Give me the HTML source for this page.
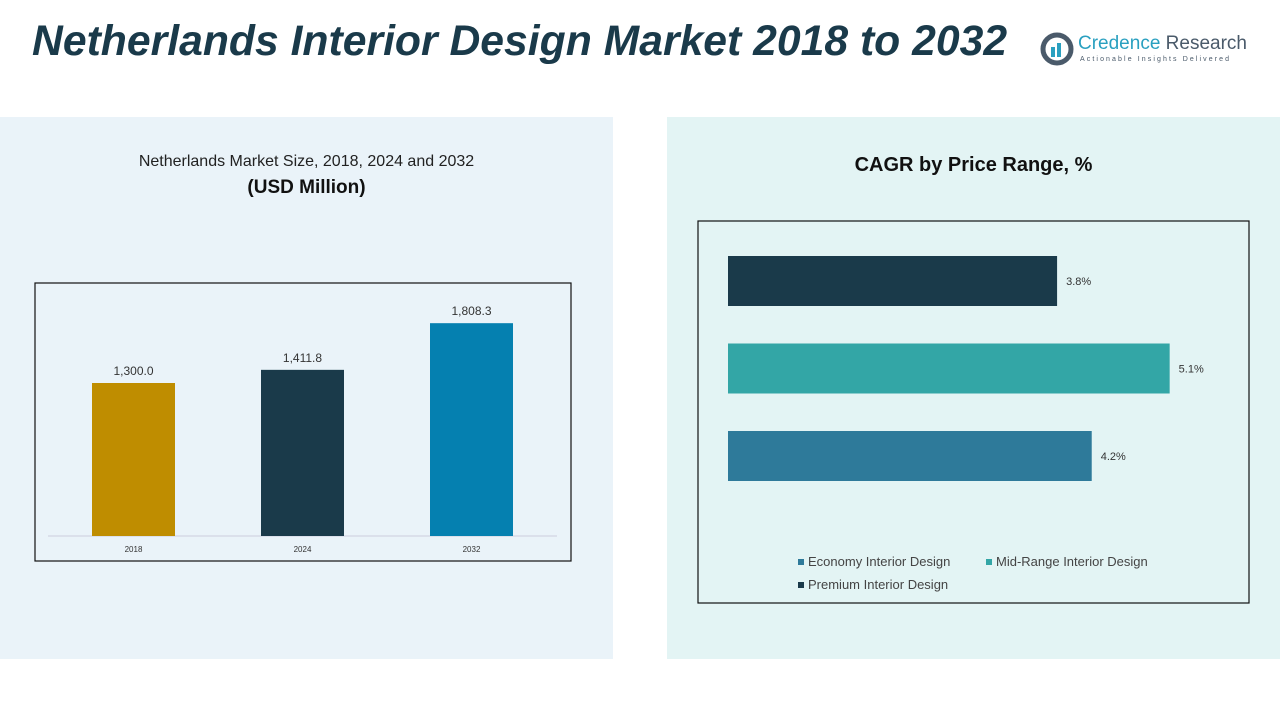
<!DOCTYPE html>
<html><head><meta charset="utf-8"><style>
body{margin:0;width:1280px;height:720px;background:#fff;font-family:"Liberation Sans",sans-serif;position:relative;overflow:hidden}
.abs{position:absolute}
</style></head><body>
<div class="abs" style="left:32px;top:17px;font-size:42.7px;font-weight:bold;font-style:italic;color:#1a3a4a;white-space:nowrap">Netherlands Interior Design Market 2018 to 2032</div>
<div class="abs" style="left:1040px;top:30px;width:235px;height:40px">
<svg width="34" height="34" style="position:absolute;left:0;top:2px"><circle cx="17" cy="17" r="14" fill="none" stroke="#4a5a6a" stroke-width="5"/><rect x="11" y="15" width="4" height="10" fill="#2aa0c0"/><rect x="17" y="11" width="4" height="14" fill="#2aa0c0"/></svg>
<div class="abs" style="left:38px;top:3px;font-size:19px;color:#2aa0c0;white-space:nowrap">Credence <span style="color:#4a5a6a">Research</span></div>
<div class="abs" style="left:40px;top:26px;font-size:7px;letter-spacing:2.1px;color:#4a5a6a;white-space:nowrap">Actionable Insights Delivered</div>
</div>
<div class="abs" style="left:0;top:117px;width:613px;height:542px;background:#eaf3f9"></div>
<div class="abs" style="left:667px;top:117px;width:613px;height:542px;background:#e3f4f4"></div>
<div class="abs" style="left:0;top:153px;width:613px;text-align:center;font-size:16px;color:#222">Netherlands Market Size, 2018, 2024 and 2032</div>
<div class="abs" style="left:0;top:177px;width:613px;text-align:center;font-size:19px;font-weight:bold;color:#111">(USD Million)</div>
<div class="abs" style="left:667px;top:154px;width:613px;text-align:center;font-size:20px;font-weight:bold;color:#111">CAGR by Price Range, %</div>
<svg class="abs" style="left:0;top:0" width="1280" height="720" id="svg">
<rect x="35" y="283" width="536" height="278" fill="none" stroke="#111" stroke-width="1.2"/>
<line x1="48" y1="536" x2="557" y2="536" stroke="#ccd"/>
<rect x="698" y="221" width="551" height="382" fill="none" stroke="#111" stroke-width="1.2"/>
</svg>
<script>
const years=["2018","2024","2032"];
const sizes=[1300.0,1411.8,1808.3];
const sizeColors=["#bf8d00","#1a3a4a","#0580b0"];
const segments=["Premium Interior Design","Mid-Range Interior Design","Economy Interior Design"];
const cagr=[3.8,5.1,4.2];
const segColors=["#1a3a4a","#33a6a6","#2e7a9a"];
const svg=document.getElementById('svg');const NS="http://www.w3.org/2000/svg";
function mk(t,a){const e=document.createElementNS(NS,t);for(const k in a)e.setAttribute(k,a[k]);svg.appendChild(e);return e;}
const yS=v=>536-v*153/1300;
const xC=i=>133.5+i*169;
years.forEach((y,i)=>{
 const b=mk('rect',{x:xC(i)-41.5,y:yS(sizes[i]),width:83,height:536-yS(sizes[i]),fill:sizeColors[i]});
 
 
 const l=mk('text',{x:xC(i),y:yS(sizes[i])-8,'text-anchor':'middle','font-size':12,fill:'#333'});l.textContent=sizes[i].toLocaleString('en-US',{minimumFractionDigits:1});
 
 
 const t=mk('text',{x:xC(i),y:552,'text-anchor':'middle','font-size':8,fill:'#333'});t.textContent=y;
 
 
});
const xH=v=>728+v*86.6;
const yH=i=>256+i*87.5;
segments.forEach((s,i)=>{
 const b=mk('rect',{x:728,y:yH(i),width:xH(cagr[i])-728,height:50,fill:segColors[i]});
 
 
 const l=mk('text',{x:xH(cagr[i])+9,y:yH(i)+29,'font-size':11,fill:'#333'});l.textContent=cagr[i].toFixed(1)+'%';
 
 
});
const leg=[[2,798,566],[1,986,566],[0,798,589]];
leg.forEach(([i,x,y])=>{
 const r=mk('rect',{x:x,y:y-7,width:6,height:6,fill:segColors[i]});
 
 
 const t=mk('text',{x:x+10,y:y,'font-size':13,fill:'#444'});t.textContent=segments[i];
 
 
});
</script>
</body></html>
